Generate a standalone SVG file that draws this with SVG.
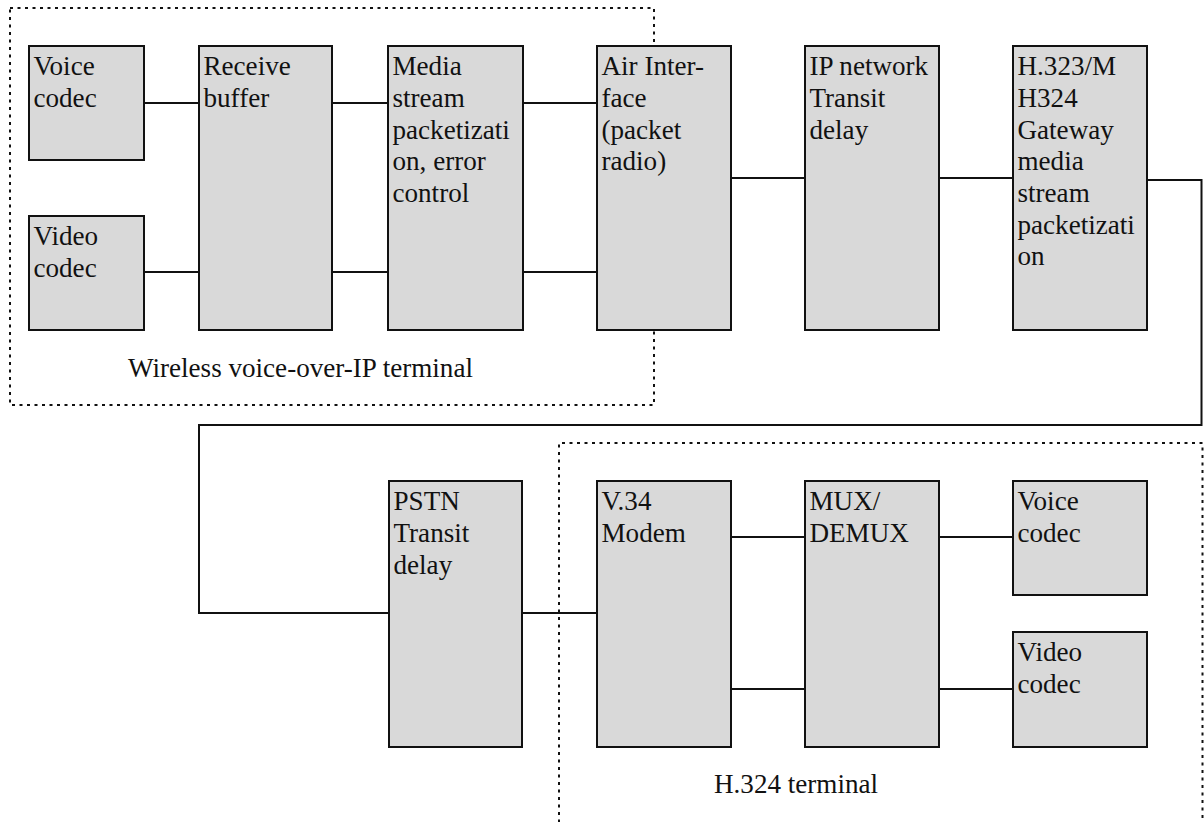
<svg xmlns="http://www.w3.org/2000/svg" width="1204" height="822" viewBox="0 0 1204 822">
  <style>
    .box { fill: #d9d9d9; stroke: #111; stroke-width: 2; }
    .wire { fill: none; stroke: #111; stroke-width: 2; }
    .zone { fill: none; stroke: #111; stroke-width: 2; stroke-dasharray: 3 4.5; }
    text { font-family: "Liberation Serif", "Times New Roman", serif; font-size: 27.1px; fill: #111; }
  </style>
  <rect width="1204" height="822" fill="#fff"/>

  <!-- terminal boundaries -->
  <g id="zones">
    <rect id="zone-wireless" class="zone" x="10" y="8" width="644" height="397"/>
    <path id="zone-h324" class="zone" d="M559,830 V443 H1202.5 V830"/>
  </g>

  <!-- connectors -->
  <g id="connectors">
    <path class="wire" d="M144,103 H199"/>
    <path class="wire" d="M144,272 H199"/>
    <path class="wire" d="M332,103 H388"/>
    <path class="wire" d="M332,272 H388"/>
    <path class="wire" d="M523,103 H597"/>
    <path class="wire" d="M523,272 H597"/>
    <path class="wire" d="M731,178 H805"/>
    <path class="wire" d="M939,178 H1013"/>
    <path class="wire" d="M1147,180 H1201.5 V425 H199 V613 H389"/>
    <path class="wire" d="M522,613 H597"/>
    <path class="wire" d="M731,537 H805"/>
    <path class="wire" d="M731,689 H805"/>
    <path class="wire" d="M939,537 H1013"/>
    <path class="wire" d="M939,689 H1013"/>
  </g>

  <!-- wireless terminal blocks -->
  <g id="voice-codec-1">
    <rect class="box" x="29" y="46" width="115" height="114"/>
    <text x="33.5" y="75">Voice</text>
    <text x="33.5" y="107">codec</text>
  </g>
  <g id="video-codec-1">
    <rect class="box" x="29" y="216" width="115" height="114"/>
    <text x="33.5" y="245">Video</text>
    <text x="33.5" y="277">codec</text>
  </g>
  <g id="receive-buffer">
    <rect class="box" x="199" y="46" width="133" height="284"/>
    <text x="203.5" y="75">Receive</text>
    <text x="203.5" y="107">buffer</text>
  </g>
  <g id="media-packetization">
    <rect class="box" x="388" y="46" width="135" height="284"/>
    <text x="392.5" y="75">Media</text>
    <text x="392.5" y="107">stream</text>
    <text x="392.5" y="138.5">packetizati</text>
    <text x="392.5" y="170">on, error</text>
    <text x="392.5" y="202">control</text>
  </g>
  <g id="air-interface">
    <rect class="box" x="597" y="46" width="134" height="284"/>
    <text x="601.5" y="75">Air Inter-</text>
    <text x="601.5" y="107">face</text>
    <text x="601.5" y="138.5">(packet</text>
    <text x="601.5" y="170">radio)</text>
  </g>

  <!-- network blocks -->
  <g id="ip-network">
    <rect class="box" x="805" y="46" width="134" height="284"/>
    <text x="809.5" y="75">IP network</text>
    <text x="809.5" y="107">Transit</text>
    <text x="809.5" y="138.5">delay</text>
  </g>
  <g id="gateway">
    <rect class="box" x="1013" y="46" width="134" height="284"/>
    <text x="1017.5" y="75">H.323/M</text>
    <text x="1017.5" y="107">H324</text>
    <text x="1017.5" y="138.5">Gateway</text>
    <text x="1017.5" y="170">media</text>
    <text x="1017.5" y="202">stream</text>
    <text x="1017.5" y="233.5">packetizati</text>
    <text x="1017.5" y="265">on</text>
  </g>
  <g id="pstn">
    <rect class="box" x="389" y="481" width="133" height="266"/>
    <text x="393.5" y="510">PSTN</text>
    <text x="393.5" y="542">Transit</text>
    <text x="393.5" y="573.5">delay</text>
  </g>

  <!-- H.324 terminal blocks -->
  <g id="v34-modem">
    <rect class="box" x="597" y="481" width="134" height="266"/>
    <text x="601.5" y="510">V.34</text>
    <text x="601.5" y="542">Modem</text>
  </g>
  <g id="mux-demux">
    <rect class="box" x="805" y="481" width="134" height="266"/>
    <text x="809.5" y="510">MUX/</text>
    <text x="809.5" y="542">DEMUX</text>
  </g>
  <g id="voice-codec-2">
    <rect class="box" x="1013" y="481" width="134" height="114"/>
    <text x="1017.5" y="510">Voice</text>
    <text x="1017.5" y="542">codec</text>
  </g>
  <g id="video-codec-2">
    <rect class="box" x="1013" y="632" width="134" height="115"/>
    <text x="1017.5" y="661">Video</text>
    <text x="1017.5" y="693">codec</text>
  </g>

  <!-- zone captions -->
  <g id="captions">
    <text x="128" y="377">Wireless voice-over-IP terminal</text>
    <text x="714" y="793">H.324 terminal</text>
  </g>
</svg>
